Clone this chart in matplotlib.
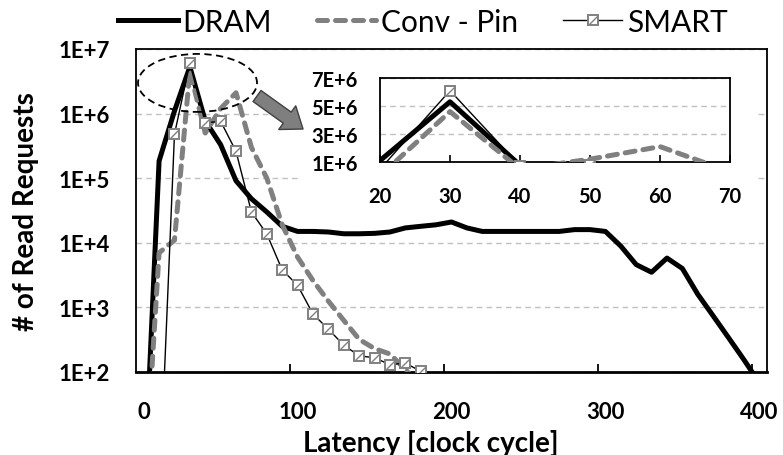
import numpy as np
import matplotlib
matplotlib.use('Agg')
from matplotlib import pyplot as plt
from matplotlib.patches import Ellipse, FancyArrowPatch, Rectangle
from matplotlib.lines import Line2D
from matplotlib.path import Path

plt.rcParams['font.family'] = ['Lato', 'DejaVu Sans']

# read latency histograms, one bin every 10 clock cycles
x_dram = np.arange(0, 410, 10)
dram = [1, 1.85e5, 1.1e6, 5.3e6, 7.7e5, 3.3e5, 9.1e4, 4.8e4, 3.0e4, 1.8e4,
        1.5e4, 1.5e4, 1.47e4, 1.38e4, 1.38e4, 1.4e4, 1.47e4, 1.7e4, 1.8e4, 1.9e4,
        2.1e4, 1.7e4, 1.5e4, 1.5e4, 1.5e4, 1.5e4, 1.5e4, 1.5e4, 1.6e4, 1.6e4,
        1.5e4, 8.9e3, 4.6e3, 3.5e3, 5.8e3, 4.0e3, 1.6e3, 7.4e2, 3.4e2, 1.55e2, 68]

x_pin = np.arange(0, 190, 10)
conv_pin = [1, 7e3, 1.1e4, 4.6e6, 5e5, 1.2e6, 2.1e6, 3e5, 1e5, 1.9e4,
            6e3, 2.6e3, 1.25e3, 6.3e2, 3.2e2, 2.3e2, 1.9e2, 1.1e2, 60]

x_smart = np.arange(10, 190, 10)
smart = [1, 4.8e5, 6.1e6, 7.2e5, 7.6e5, 2.6e5, 3.0e4, 1.37e4, 3.8e3, 2.2e3,
         7.9e2, 4.6e2, 2.6e2, 1.78e2, 1.66e2, 1.3e2, 1.37e2, 1.03e2]

main_yticks = [1e2, 1e3, 1e4, 1e5, 1e6, 1e7]
main_ylabels = ['1E+2', '1E+3', '1E+4', '1E+5', '1E+6', '1E+7']
main_xticks = [0, 100, 200, 300, 400]
inset_yticks = [1e6, 3e6, 5e6, 7e6]
inset_ylabels = ['1E+6', '3E+6', '5E+6', '7E+6']
inset_xticks = [20, 30, 40, 50, 60, 70]

GRAY = '#808080'
GRID = '#c0c0c0'

dram_style = dict(color='black', lw=3.6, solid_joinstyle='round')
pin_style = dict(color=GRAY, lw=3.6, dashes=(2.0, 1.6), dash_capstyle='round')
smart_style = dict(color='black', lw=1.0, marker='s', ms=7.5, mfc='white',
                   mec=GRAY, mew=1.4)
diag = Path([(-1, -1), (1, 1)], [Path.MOVETO, Path.LINETO])
diag_style = dict(ls='none', marker=diag, ms=5.5, mec=GRAY, mew=1.0)

fig = plt.figure(figsize=(7.83, 4.56), dpi=100)
ax = fig.add_axes([136 / 783, 83 / 456, 631 / 783, 323 / 456])

ax.plot(x_dram, dram, **dram_style, zorder=3)
ax.plot(x_pin, conv_pin, **pin_style, zorder=3)
ax.plot(x_smart, smart, **smart_style, zorder=4)
ax.plot(x_smart, smart, **diag_style, zorder=5)

ax.set_yscale('log')
ax.set_ylim(1e2, 1e7)
ax.set_xlim(-5, 405)
ax.set_yticks(main_yticks)
ax.set_yticklabels(main_ylabels)
ax.yaxis.set_minor_locator(matplotlib.ticker.NullLocator())
ax.set_xticks(main_xticks)
ax.set_xticks([95, 195, 295, 395], minor=True)
ax.tick_params(axis='x', which='major', length=0, pad=21, labelsize=16)
ax.tick_params(axis='x', which='minor', direction='in', length=6, width=1.3)
ax.tick_params(axis='y', length=0, pad=19, labelsize=16)
for lab in ax.get_xticklabels() + ax.get_yticklabels():
    lab.set_fontweight('bold')
ax.grid(axis='y', color=GRID, ls=(0, (4, 3)), lw=1.0)
ax.set_axisbelow(True)
for sp in ax.spines.values():
    sp.set_linewidth(1.3)
ax.spines['bottom'].set_linewidth(2.0)

ax.set_xlabel('Latency [clock cycle]', fontsize=20, fontweight='bold')
ax.xaxis.set_label_coords(0.4675, -0.217)
ax.xaxis.label.set_va('center')
ax.set_ylabel('# of Read Requests', fontsize=20, fontweight='bold')
ax.yaxis.set_label_coords(-0.174, 0.5)
ax.yaxis.label.set_va('center')

# blank area behind the zoomed-in panel
ax.add_patch(Rectangle((0.26, 0.536), 0.724, 0.449, transform=ax.transAxes,
                       fc='white', ec='none', zorder=1.5))

ax.add_patch(Ellipse((0.0975, 0.895), 0.1886, 0.1796, transform=ax.transAxes,
                     fill=False, ec='black', lw=1.3, ls=(0, (4, 2.5)), zorder=6))
ax.add_patch(FancyArrowPatch((0.1918, 0.8545), (0.2647, 0.7523),
                             transform=ax.transAxes,
                             arrowstyle='simple,head_width=1.5,head_length=1.0,tail_width=0.7',
                             mutation_scale=14, shrinkA=0, shrinkB=0,
                             fc='#7f7f7f', ec='#404040', lw=1.0, zorder=6))

# zoom on the 20-70 cycle peak, linear scale
axi = fig.add_axes([380 / 783, 293 / 456, 350 / 783, 84 / 456], zorder=2)
axi.plot(x_dram, dram, **dram_style, zorder=3)
axi.plot(x_pin, conv_pin, **pin_style, zorder=3)
axi.plot(x_smart, smart, **smart_style, zorder=4)
axi.plot(x_smart, smart, **diag_style, zorder=5)
axi.set_xlim(20, 70)
axi.set_ylim(1e6, 7e6)
axi.set_yticks(inset_yticks)
axi.set_yticklabels(inset_ylabels)
axi.set_xticks(inset_xticks)
axi.tick_params(axis='x', direction='in', length=5, width=1.2, pad=17, labelsize=14.5)
axi.tick_params(axis='y', length=0, pad=16, labelsize=14.5)
for lab in axi.get_xticklabels() + axi.get_yticklabels():
    lab.set_fontweight('bold')
axi.grid(axis='y', color=GRID, ls=(0, (4, 3)), lw=1.0)
axi.set_axisbelow(True)
for sp in axi.spines.values():
    sp.set_linewidth(1.3)

h_dram = Line2D([], [], **dram_style)
h_pin = Line2D([], [], **pin_style)
h_smart = (Line2D([], [], **smart_style), Line2D([], [], **diag_style))
fig.legend([h_dram, h_pin, h_smart], ['DRAM', 'Conv - Pin', 'SMART'],
           loc='center', bbox_to_anchor=(0.54, 0.95), ncol=3, frameon=False,
           fontsize=21.5, handlelength=2.0, handletextpad=0.15, columnspacing=1.5,
           borderaxespad=0, borderpad=0)

fig.savefig('out.png', dpi=100)
